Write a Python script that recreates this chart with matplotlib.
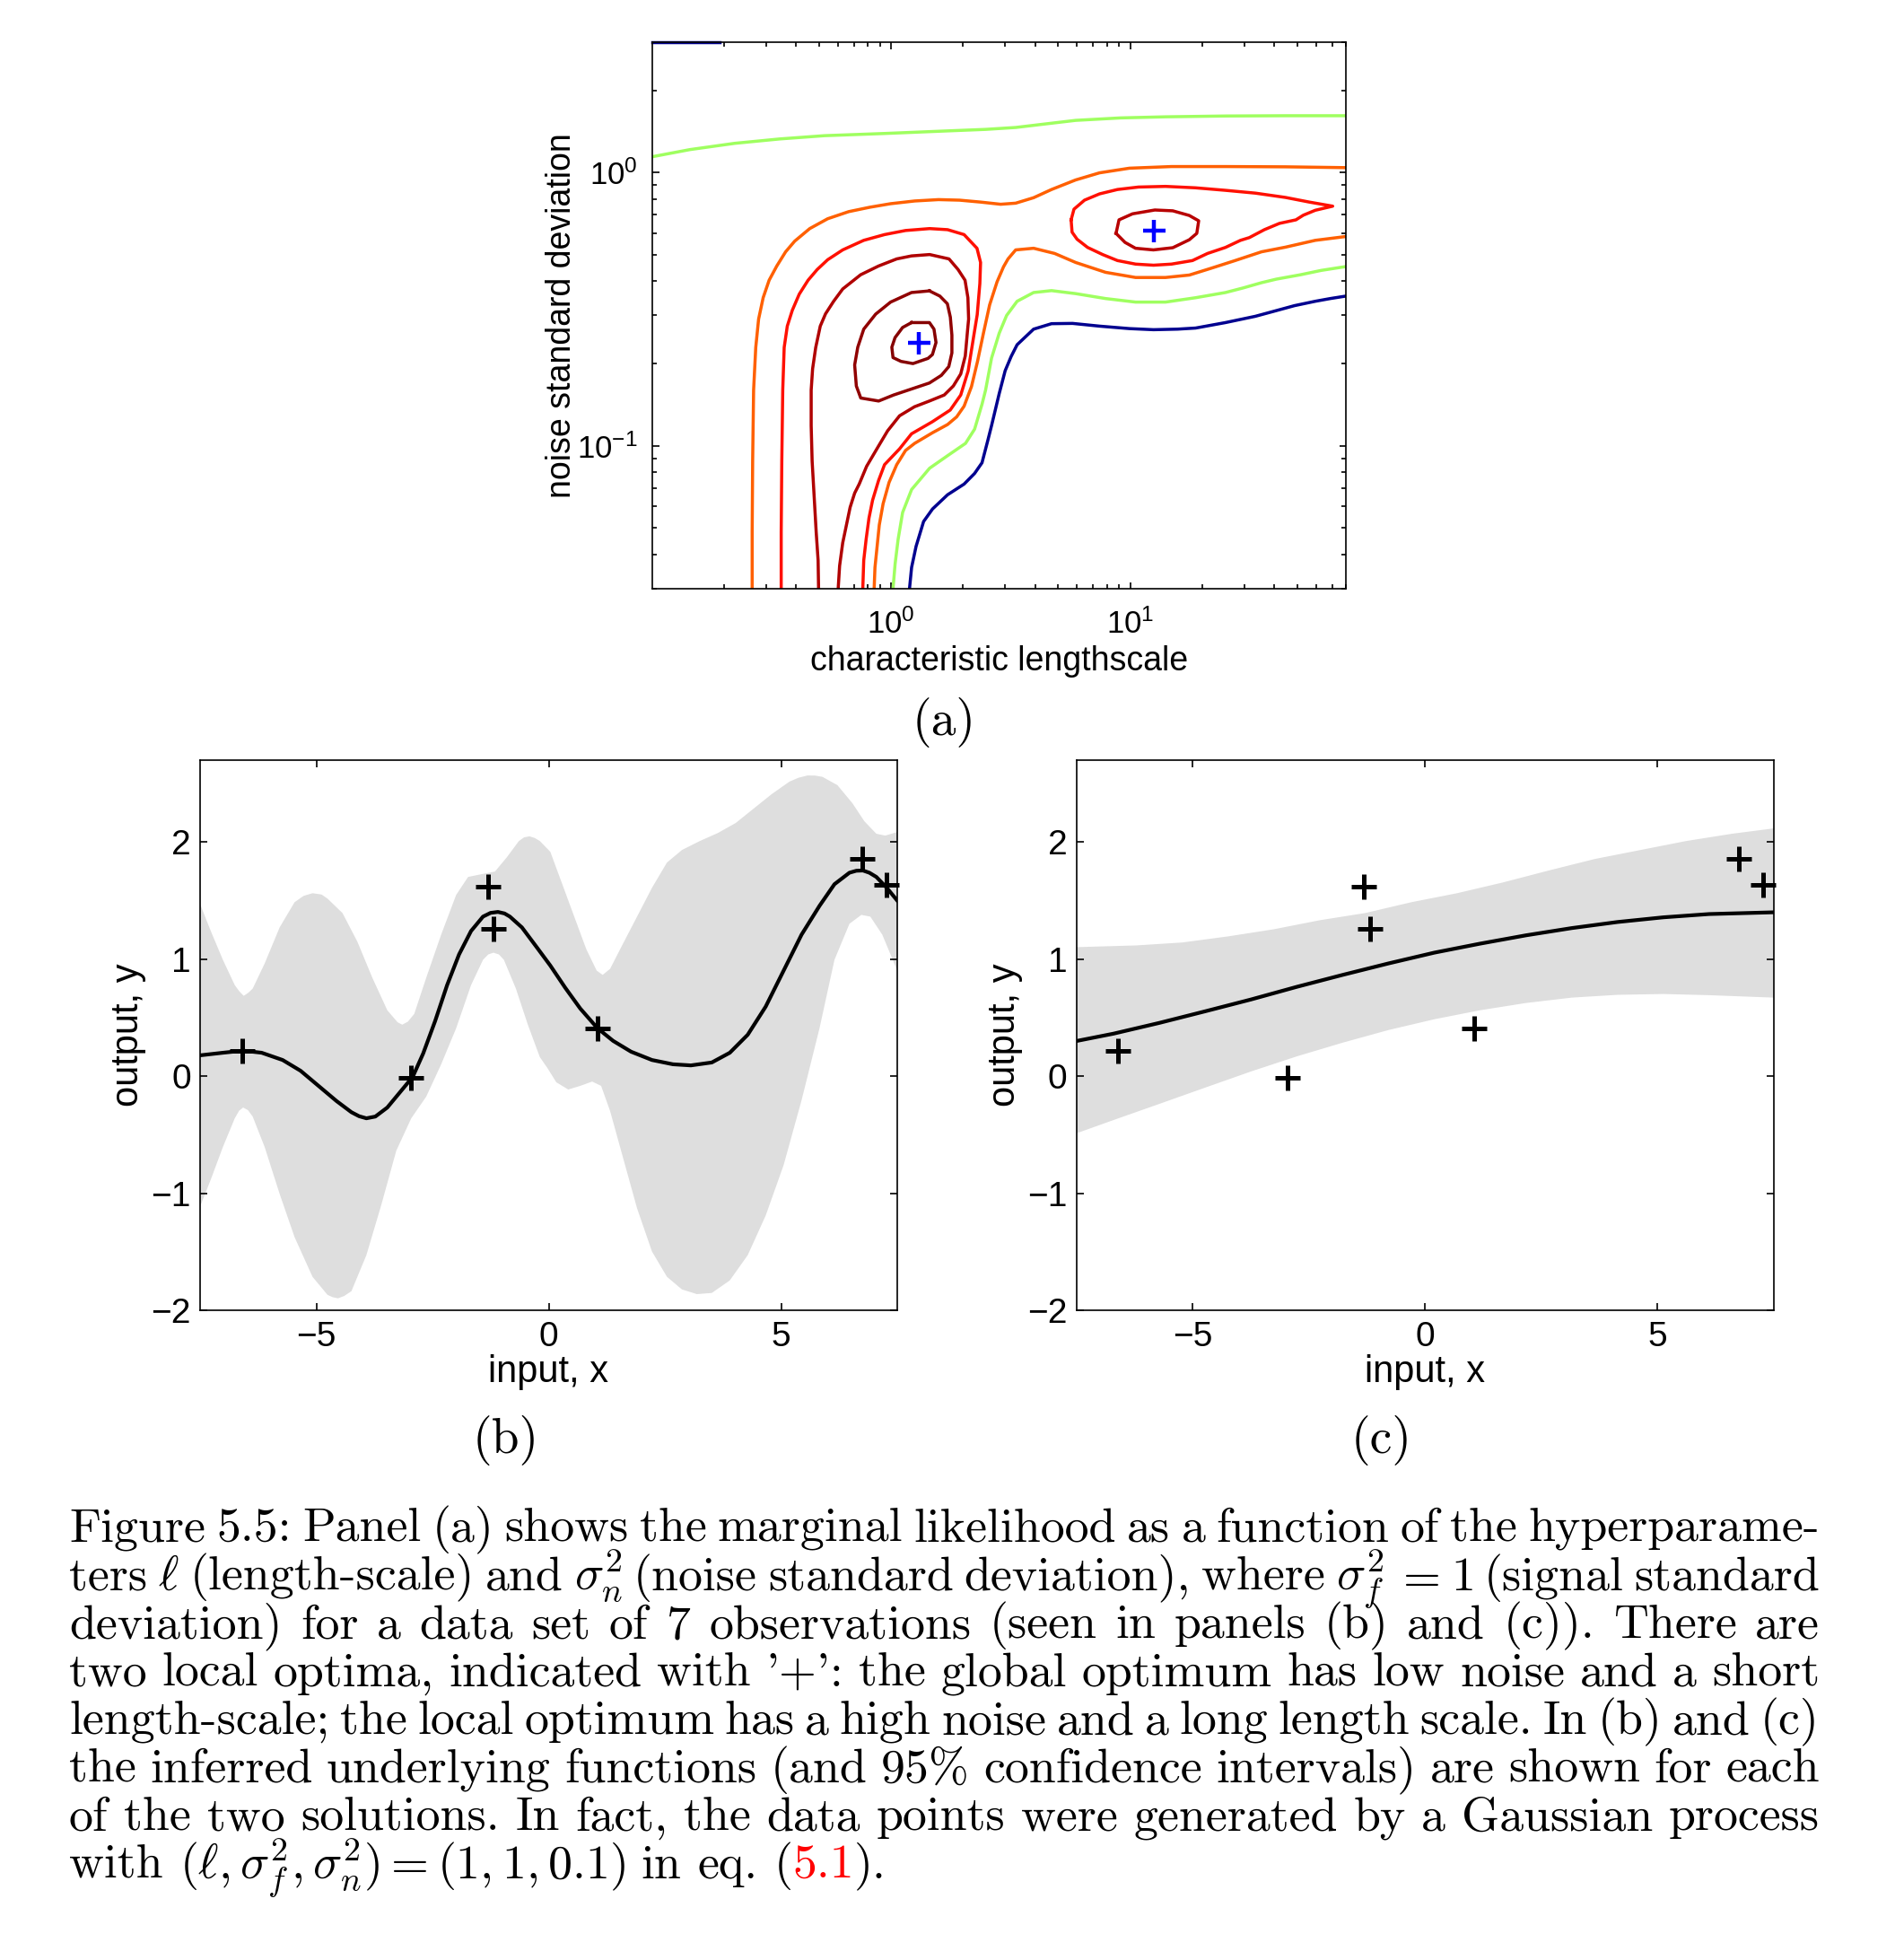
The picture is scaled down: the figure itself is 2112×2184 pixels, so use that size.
import numpy as np
import matplotlib
matplotlib.use("Agg")
import matplotlib.pyplot as plt
from matplotlib.ticker import FixedLocator, FixedFormatter, NullFormatter

plt.rcParams["font.family"] = ["Liberation Sans", "DejaVu Sans"]
plt.rcParams["mathtext.fontset"] = "dejavusans"

W, H, DPI = 2112, 2184, 200

# ---------------- data ----------------
# the 7 observations (panels b and c)
x_obs = [-6.60, -2.96, -1.31, -1.18, 1.05, 6.75, 7.26]
y_obs = [0.215, -0.015, 1.62, 1.255, 0.408, 1.855, 1.635]

# panel (b): short length-scale solution
b_mean_x = [-7.5, -7.01, -6.574, -6.175, -5.724, -5.338, -4.952, -4.566, -4.244, -4.08, -3.922, -3.729,
            -3.472, -3.215, -2.925, -2.70, -2.443, -2.185, -1.928, -1.67, -1.413, -1.25, -1.091, -0.95,
            -0.834, -0.576, -0.254, 0.035, 0.357, 0.679, 1.052, 1.387, 1.773, 2.223, 2.674, 3.06, 3.51,
            3.897, 4.283, 4.669, 5.055, 5.441, 5.827, 6.149, 6.471, 6.62, 6.761, 6.9, 7.05, 7.275, 7.5]
b_mean_y = [0.178, 0.20, 0.218, 0.20, 0.138, 0.046, -0.083, -0.212, -0.308, -0.342, -0.36, -0.345,
            -0.268, -0.145, -0.006, 0.194, 0.471, 0.778, 1.04, 1.24, 1.363, 1.395, 1.403, 1.39,
            1.363, 1.271, 1.10, 0.945, 0.755, 0.578, 0.409, 0.3015, 0.209, 0.138, 0.1015, 0.092, 0.117,
            0.20, 0.354, 0.594, 0.9015, 1.209, 1.455, 1.64, 1.738, 1.755, 1.757, 1.738, 1.702, 1.609, 1.50]
b_up_x = [-7.5, -7.27, -7.01, -6.754, -6.657, -6.561, -6.464, -6.368, -6.11, -5.788, -5.467, -5.274,
          -5.081, -4.888, -4.759, -4.437, -4.115, -3.793, -3.472, -3.25, -3.15, -3.03, -2.892, -2.635,
          -2.313, -1.991, -1.734, -1.476, -1.155, -0.898, -0.64, -0.53, -0.415, -0.30, -0.19, 0.035,
          0.293, 0.55, 0.808, 1.033, 1.162, 1.322, 1.58, 1.902, 2.223, 2.545, 2.867, 3.253, 3.639,
          4.025, 4.411, 4.797, 5.183, 5.38, 5.569, 5.73, 5.891, 6.213, 6.535, 6.792, 7.05, 7.243, 7.5]
b_up_y = [1.47, 1.24, 0.994, 0.778, 0.725, 0.686, 0.712, 0.748, 0.963, 1.271, 1.486, 1.54,
          1.563, 1.552, 1.517, 1.394, 1.148, 0.84, 0.563, 0.46, 0.44, 0.465, 0.532, 0.84,
          1.209, 1.548, 1.702, 1.723, 1.748, 1.871, 2.009, 2.04, 2.049, 2.035, 2.009, 1.917,
          1.64, 1.363, 1.086, 0.9015, 0.865, 0.917, 1.117, 1.363, 1.609, 1.825, 1.932, 2.009, 2.077,
          2.163, 2.286, 2.409, 2.517, 2.55, 2.569, 2.568, 2.557, 2.486, 2.332, 2.178, 2.071, 2.055, 2.086]
b_lo_x = [-7.5, -7.27, -7.01, -6.754, -6.66, -6.574, -6.47, -6.368, -6.11, -5.788, -5.467, -5.081,
          -4.759, -4.65, -4.534, -4.40, -4.244, -3.922, -3.6, -3.279, -2.957, -2.635, -2.313, -1.991,
          -1.67, -1.413, -1.30, -1.188, -1.07, -0.963, -0.705, -0.448, -0.19, -0.029, 0.164, 0.421,
          0.679, 0.936, 1.129, 1.322, 1.58, 1.902, 2.223, 2.545, 2.867, 3.189, 3.51, 3.897, 4.283,
          4.669, 5.055, 5.441, 5.827, 6.149, 6.471, 6.728, 6.921, 7.178, 7.371, 7.5]
b_lo_y = [-1.114, -0.883, -0.606, -0.36, -0.295, -0.268, -0.29, -0.345, -0.606, -1.006, -1.375, -1.714,
          -1.868, -1.888, -1.898, -1.878, -1.837, -1.529, -1.098, -0.637, -0.36, -0.175, 0.1015, 0.409,
          0.778, 0.994, 1.04, 1.055, 1.04, 0.994, 0.748, 0.44, 0.163, 0.071, -0.052, -0.114,
          -0.083, -0.046, -0.083, -0.298, -0.668, -1.129, -1.498, -1.714, -1.822, -1.862, -1.852, -1.745,
          -1.529, -1.191, -0.76, -0.206, 0.409, 0.994, 1.302, 1.378, 1.363, 1.209, 1.025, 0.90]

# panel (c): long length-scale solution
c_x = [-7.5, -6.70, -5.714, -4.729, -3.744, -2.759, -1.773, -0.788, 0.197, 1.182, 2.167,
       3.153, 4.138, 5.123, 6.108, 7.5]
c_mean_y = [0.30, 0.363, 0.455, 0.554, 0.655, 0.763, 0.865, 0.963, 1.055, 1.132, 1.203,
            1.265, 1.317, 1.357, 1.385, 1.40]
c_lo_y = [-0.489, -0.375, -0.237, -0.098, 0.040, 0.169, 0.286, 0.394, 0.486, 0.563, 0.625,
          0.671, 0.695, 0.702, 0.692, 0.671]
c_up_x = [-7.5, -6.207, -5.222, -4.236, -3.251, -2.266, -1.281, -0.296, 0.69, 1.675, 2.66,
          3.645, 4.631, 5.616, 6.601, 7.5]
c_up_y = [1.102, 1.117, 1.142, 1.194, 1.255, 1.332, 1.394, 1.486, 1.563, 1.655, 1.757,
          1.855, 1.932, 2.009, 2.071, 2.117]

# panel (a): traced contour lines, (log10 lengthscale, log10 noise std)
navy_top = [(-1.0, 0.4771), (-0.72, 0.4771)]
navy_low = [(0.0765, -1.523), (0.0853, -1.445), (0.104, -1.368), (0.1355, -1.277), (0.173, -1.231),
            (0.236, -1.179), (0.305, -1.140), (0.349, -1.101), (0.380, -1.062), (0.405, -0.978),
            (0.420, -0.926), (0.452, -0.809), (0.477, -0.725), (0.502, -0.673), (0.527, -0.630),
            (0.596, -0.573), (0.671, -0.553), (0.759, -0.552), (0.872, -0.562), (0.997, -0.571),
            (1.098, -0.575), (1.198, -0.573), (1.274, -0.569), (1.399, -0.549), (1.524, -0.526),
            (1.600, -0.508), (1.688, -0.487), (1.775, -0.471), (1.838, -0.461), (1.903, -0.452)]
green_up = [(-1.0, 0.058), (-0.843, 0.084), (-0.655, 0.107), (-0.467, 0.123), (-0.279, 0.135),
            (-0.028, 0.143), (0.223, 0.152), (0.395, 0.158), (0.521, 0.165), (0.646, 0.178),
            (0.772, 0.191), (0.960, 0.200), (1.148, 0.204), (1.399, 0.207), (1.650, 0.208),
            (1.903, 0.208)]
green_low = [(0.0075, -1.523), (0.0163, -1.432), (0.0289, -1.342), (0.0477, -1.244), (0.0853, -1.160),
             (0.1606, -1.082), (0.236, -1.036), (0.311, -0.991), (0.349, -0.939), (0.380, -0.848),
             (0.395, -0.796), (0.420, -0.679), (0.452, -0.588), (0.483, -0.523), (0.527, -0.471),
             (0.596, -0.439), (0.671, -0.432), (0.772, -0.443), (0.897, -0.461), (1.023, -0.474),
             (1.148, -0.474), (1.274, -0.458), (1.399, -0.439), (1.474, -0.422), (1.550, -0.403),
             (1.612, -0.390), (1.713, -0.374), (1.800, -0.358), (1.903, -0.344)]
orange_a = [(-0.582, -1.523), (-0.582, -1.316), (-0.580, -1.056), (-0.576, -0.796), (-0.567, -0.640),
            (-0.555, -0.536), (-0.536, -0.458), (-0.511, -0.394), (-0.479, -0.342), (-0.442, -0.290),
            (-0.404, -0.251), (-0.341, -0.205), (-0.266, -0.169), (-0.178, -0.143), (-0.090, -0.127),
            (-0.003, -0.114), (0.098, -0.104), (0.198, -0.099), (0.286, -0.101), (0.374, -0.108),
            (0.458, -0.116), (0.521, -0.112), (0.596, -0.092), (0.671, -0.062), (0.772, -0.027),
            (0.872, -0.001), (0.997, 0.016), (1.173, 0.022), (1.399, 0.022), (1.650, 0.021),
            (1.903, 0.018)]
orange_b = [(-0.0715, -1.523), (-0.068, -1.445), (-0.059, -1.368), (-0.050, -1.290), (-0.034, -1.212),
            (-0.009, -1.134), (0.023, -1.069), (0.060, -1.017), (0.098, -0.991), (0.173, -0.952),
            (0.236, -0.922), (0.274, -0.894), (0.305, -0.855), (0.336, -0.783), (0.361, -0.692),
            (0.386, -0.588), (0.412, -0.484), (0.443, -0.400), (0.470, -0.345), (0.489, -0.316),
            (0.521, -0.283), (0.596, -0.277), (0.684, -0.296), (0.772, -0.329), (0.897, -0.365),
            (1.023, -0.384), (1.148, -0.384), (1.248, -0.375), (1.336, -0.351), (1.436, -0.323),
            (1.550, -0.290), (1.650, -0.273), (1.775, -0.248), (1.903, -0.234)]
red_left = [(-0.4605, -1.523), (-0.4605, -1.316), (-0.458, -1.056), (-0.454, -0.796), (-0.448, -0.640),
            (-0.435, -0.562), (-0.414, -0.504), (-0.385, -0.445), (-0.348, -0.394), (-0.310, -0.355),
            (-0.266, -0.319), (-0.203, -0.283), (-0.115, -0.248), (-0.028, -0.227), (0.060, -0.212),
            (0.161, -0.205), (0.236, -0.209), (0.305, -0.227), (0.359, -0.277), (0.374, -0.329),
            (0.371, -0.406), (0.360, -0.520), (0.348, -0.584), (0.322, -0.726), (0.291, -0.814),
            (0.247, -0.869), (0.172, -0.912), (0.085, -0.956), (0.035, -1.011), (-0.028, -1.069),
            (-0.053, -1.127), (-0.078, -1.199), (-0.093, -1.264), (-0.105, -1.342), (-0.115, -1.419),
            (-0.119, -1.523)]
red_right = [(0.753, -0.173), (0.765, -0.134), (0.809, -0.101), (0.872, -0.078), (0.947, -0.062),
             (1.035, -0.053), (1.148, -0.0506), (1.2735, -0.0558), (1.399, -0.065), (1.5245, -0.0753),
             (1.650, -0.091), (1.750, -0.108), (1.848, -0.123), (1.775, -0.138), (1.725, -0.156),
             (1.694, -0.173), (1.625, -0.186), (1.562, -0.209), (1.499, -0.238), (1.462, -0.248),
             (1.399, -0.274), (1.324, -0.296), (1.261, -0.322), (1.173, -0.335), (1.098, -0.339),
             (1.023, -0.335), (0.947, -0.322), (0.885, -0.300), (0.822, -0.274), (0.778, -0.244),
             (0.757, -0.218), (0.753, -0.173)]
dred_u = [(-0.304, -1.523), (-0.306, -1.419), (-0.314, -1.316), (-0.3225, -1.186), (-0.331, -1.056),
          (-0.335, -0.926), (-0.335, -0.796), (-0.329, -0.718), (-0.316, -0.640), (-0.297, -0.562),
          (-0.275, -0.517), (-0.241, -0.471), (-0.203, -0.426), (-0.128, -0.374), (-0.053, -0.342),
          (0.023, -0.316), (0.085, -0.305), (0.161, -0.300), (0.242, -0.316), (0.280, -0.355),
          (0.309, -0.394), (0.321, -0.458), (0.324, -0.536), (0.320, -0.573), (0.310, -0.671),
          (0.291, -0.737), (0.260, -0.781), (0.222, -0.814), (0.160, -0.836), (0.0975, -0.857),
          (0.035, -0.890), (-0.015, -0.945), (-0.0525, -1.0), (-0.103, -1.075), (-0.134, -1.140),
          (-0.153, -1.173), (-0.172, -1.225), (-0.203, -1.355), (-0.216, -1.439), (-0.222, -1.523)]
dred_right = [(0.941, -0.2225), (0.9535, -0.173), (1.010, -0.151), (1.1035, -0.137), (1.1785, -0.140),
              (1.2475, -0.157), (1.287, -0.1765), (1.279, -0.2225), (1.2475, -0.246), (1.1785, -0.275),
              (1.0975, -0.283), (1.0225, -0.277), (0.9786, -0.2555), (0.941, -0.2225)]
maroon_2 = [(0.160, -0.433), (0.2036, -0.452), (0.235, -0.480), (0.2475, -0.529), (0.254, -0.595),
            (0.254, -0.660), (0.241, -0.710), (0.210, -0.742), (0.160, -0.770), (0.085, -0.792),
            (0.010, -0.814), (-0.0525, -0.836), (-0.1275, -0.825), (-0.146, -0.781), (-0.153, -0.704),
            (-0.140, -0.639), (-0.115, -0.573), (-0.065, -0.518), (-0.0026, -0.474), (0.085, -0.439),
            (0.160, -0.433)]
maroon_1 = [(0.085, -0.549), (0.160, -0.549), (0.179, -0.573), (0.1875, -0.622), (0.1725, -0.666),
            (0.154, -0.680), (0.091, -0.699), (0.041, -0.691), (0.0075, -0.677), (0.0026, -0.639),
            (0.016, -0.604), (0.0476, -0.567), (0.085, -0.549)]
optima_l = [1.308, 12.52]
optima_s = [0.239, 0.613]

contours = [
    (navy_top, "#00008f"), (navy_low, "#00008f"),
    (green_up, "#9fff60"), (green_low, "#9fff60"),
    (orange_a, "#ff6000"), (orange_b, "#ff6000"),
    (red_left, "#ff1000"), (red_right, "#ff1000"),
    (dred_u, "#b00000"), (dred_right, "#b80000"),
    (maroon_2, "#900000"), (maroon_1, "#850000"),
]


def fx(px):
    return px / W


def fy(py):
    return 1 - py / H


fig = plt.figure(figsize=(W / DPI, H / DPI), dpi=DPI)

# ---------------- panel (a) ----------------
ax = fig.add_axes([fx(727), fy(656), (1500 - 727) / W, (656 - 47) / H])
for pts, col in contours:
    lx, ly = np.array(pts).T
    ax.plot(10 ** lx, 10 ** ly, color=col, lw=1.25, clip_on=(pts is not navy_top),
            solid_joinstyle="round", zorder=2)
ax.plot(optima_l, optima_s, "+", color="#0000ff", ms=9, mew=1.6, zorder=3)
ax.set_xscale("log")
ax.set_yscale("log")
ax.set_xlim(0.1, 80)
ax.set_ylim(0.03, 3)
ax.xaxis.set_major_locator(FixedLocator([1, 10]))
ax.xaxis.set_major_formatter(FixedFormatter([r"$\mathregular{10^{0}}$", r"$\mathregular{10^{1}}$"]))
ax.yaxis.set_major_locator(FixedLocator([0.1, 1]))
ax.yaxis.set_major_formatter(FixedFormatter([r"$\mathregular{10^{-1}}$", r"$\mathregular{10^{0}}$"]))
ax.xaxis.set_minor_formatter(NullFormatter())
ax.yaxis.set_minor_formatter(NullFormatter())
ax.tick_params(which="both", direction="in", top=True, right=True, width=0.6, labelsize=12.5)
ax.tick_params(which="major", length=2.7)
ax.tick_params(which="minor", length=1.7)
ax.tick_params(axis="x", pad=8)
ax.tick_params(axis="y", pad=6)
for s in ax.spines.values():
    s.set_linewidth(0.6)
ax.set_xlabel("characteristic lengthscale", fontsize=13.5)
ax.set_ylabel("noise standard deviation", fontsize=13.5)
ax.xaxis.set_label_coords(0.5, -0.104)
ax.yaxis.set_label_coords(-0.108, 0.5)


# ---------------- panels (b) and (c) ----------------
def gp_panel(rect, mx, my, ux, uy, lx, ly):
    a = fig.add_axes(rect)
    a.fill(list(ux) + list(lx)[::-1], list(uy) + list(ly)[::-1], color="#dedede", lw=0, zorder=1)
    a.plot(mx, my, color="k", lw=1.5, solid_joinstyle="round", zorder=2)
    a.plot(x_obs, y_obs, "+", color="k", ms=10, mew=1.8, zorder=3, clip_on=False)
    a.set_xlim(-7.5, 7.5)
    a.set_ylim(-2, 2.7)
    a.set_xticks([-5, 0, 5])
    a.set_yticks([-2, -1, 0, 1, 2])
    a.tick_params(direction="in", top=True, right=True, length=3, width=0.6, labelsize=14)
    a.tick_params(axis="x", pad=4.5)
    a.tick_params(axis="y", pad=3.6)
    for s in a.spines.values():
        s.set_linewidth(0.6)
    a.set_xlabel("input, x", fontsize=15)
    a.set_ylabel("output, y", fontsize=15)
    a.xaxis.set_label_coords(0.5, -0.08)
    a.yaxis.set_label_coords(-0.077, 0.5)
    return a


gp_panel([fx(223), fy(1460), 777 / W, 613 / H], b_mean_x, b_mean_y, b_up_x, b_up_y, b_lo_x, b_lo_y)
gp_panel([fx(1199.5), fy(1460), 777.5 / W, 613 / H], c_x, c_mean_y, c_up_x, c_up_y, c_x, c_lo_y)

# ---------------- sub-captions ----------------
for lab, (px, py) in zip(["(a)", "(b)", "(c)"], [(1052, 805), (564, 1605), (1540, 1605)]):
    fig.text(fx(px), fy(py), lab, fontsize=20, family="cmr10", ha="center", va="center")

# ---------------- caption (justified) ----------------
CAP = 19.4
X0, X1 = 77, 2028
SPACE = 0.333 * CAP * DPI / 72
lines = [
    "Figure 5.5: Panel (a) shows the marginal likelihood as a function of the hyperparame-",
    r"ters $\ell$ (length-scale) and $\sigma_n^2$ (noise standard deviation), where $\sigma_f^2$ $=$ $1$ (signal standard",
    "deviation) for a data set of 7 observations (seen in panels (b) and (c)).  There are",
    "two local optima, indicated with '+': the global optimum has low noise and a short",
    "length-scale; the local optimum has a high noise and a long length scale. In (b) and (c)",
    "the inferred underlying functions (and 95% confidence intervals) are shown for each",
    "of the two solutions. In fact, the data points were generated by a Gaussian process",
]
last = [("with", "k", False), (r"$(\ell,\sigma_f^2,\sigma_n^2)=(1,1,0.1)$", "k", False),
        ("in", "k", False), ("eq.", "k", False), ("(", "k", False), ("5.1", "#ff0000", True),
        (").", "k", True)]

renderer = fig.canvas.get_renderer()


def draw_line(tokens, base, justify):
    items = []
    for s, col, join in tokens:
        t = fig.text(0, fy(base), s, fontsize=CAP, family="cmr10", math_fontfamily="cm",
                     color=col, ha="left", va="baseline")
        items.append((t, join, t.get_window_extent(renderer=renderer).width))
    total = sum(it[2] for it in items)
    ngaps = sum(1 for i, it in enumerate(items) if i > 0 and not it[1])
    gap = (X1 - X0 - total) / ngaps if justify else SPACE
    if justify and gap < 0.5 * SPACE:
        # squeeze the words slightly if the line is too long
        k = (X1 - X0 - 0.5 * SPACE * ngaps) / total
        for t, _, _ in items:
            t.set_fontsize(CAP * k)
        items = [(t, j, w * k) for t, j, w in items]
        gap = 0.5 * SPACE
    x = X0
    for i, (t, join, w) in enumerate(items):
        if i > 0 and not join:
            x += gap
        t.set_x(fx(x))
        x += w


base0, step = 1718, 53.55
for i, ln in enumerate(lines):
    draw_line([(w, "k", False) for w in ln.split()], base0 + i * step, True)
draw_line(last, base0 + 7 * step, False)

fig.savefig("out.png", dpi=DPI)
